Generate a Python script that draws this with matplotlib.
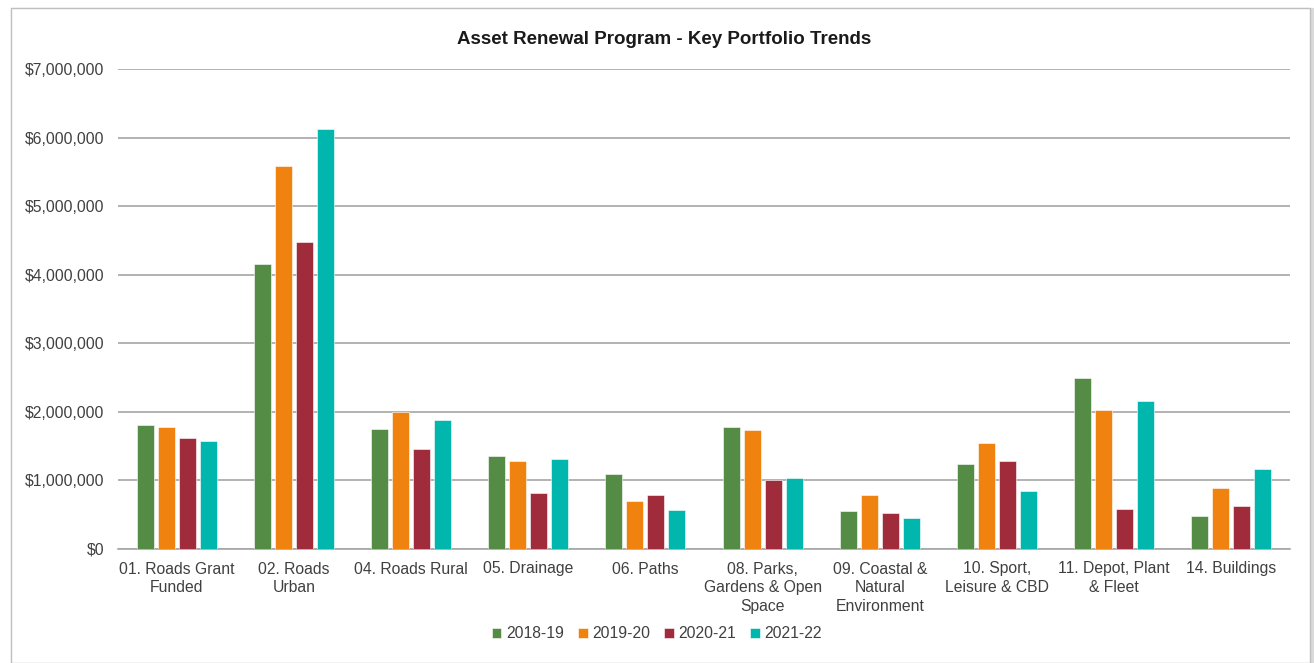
import matplotlib
matplotlib.use("Agg")
import matplotlib.pyplot as plt
import numpy as np
from matplotlib.patches import Rectangle
from matplotlib.ticker import FuncFormatter

categories = ["01. Roads Grant\nFunded", "02. Roads\nUrban", "04. Roads Rural", "05. Drainage",
              "06. Paths", "08. Parks,\nGardens & Open\nSpace", "09. Coastal &\nNatural\nEnvironment",
              "10. Sport,\nLeisure & CBD", "11. Depot, Plant\n& Fleet", "14. Buildings"]
series_names = ["2018-19", "2019-20", "2020-21", "2021-22"]
v2018_19 = [1805000, 4150000, 1750000, 1355000, 1090000, 1780000, 560000, 1240000, 2500000, 480000]
v2019_20 = [1786000, 5590000, 2000000, 1280000, 700000, 1730000, 790000, 1540000, 2020000, 885000]
v2020_21 = [1620000, 4480000, 1460000, 820000, 790000, 1000000, 530000, 1290000, 580000, 620000]
v2021_22 = [1570000, 6120000, 1880000, 1310000, 565000, 1030000, 450000, 840000, 2160000, 1165000]
colors = ["#548B45", "#F0820F", "#A02B3A", "#00B6AD"]

plt.rcParams['font.family'] = ['Liberation Sans', 'DejaVu Sans']

fig = plt.figure(figsize=(13.14, 6.63), dpi=100)
W, H = 1314, 663
# chart frame with soft shadow
fig.patches.append(Rectangle((13/W, 0), 1300/W, 1 - 10/H, transform=fig.transFigure,
                             facecolor="none", edgecolor="#DADADA", linewidth=3, zorder=-10))
fig.patches.append(Rectangle((11/W, 0), 1299/W, 1 - 8/H, transform=fig.transFigure,
                             facecolor="white", edgecolor="#BFBFBF", linewidth=1, zorder=-9))

ax = fig.add_axes([118/W, 1 - 549/H, (1290 - 118)/W, (549 - 69)/H])
ax.patch.set_alpha(0)
x = np.arange(len(categories))
pitch = 0.179
bw = 0.145
for i, (vals, name) in enumerate(zip([v2018_19, v2019_20, v2020_21, v2021_22], series_names)):
    ax.bar(x + (i - 1.5) * pitch, vals, width=bw, color=colors[i], label=name, zorder=3,
           edgecolor="white", linewidth=0.4)

ax.set_xlim(-0.5, len(categories) - 0.5)
ax.set_ylim(0, 7000000)
ax.set_yticks(np.arange(0, 7000001, 1000000))
ax.yaxis.set_major_formatter(FuncFormatter(lambda v, p: "${:,.0f}".format(v)))
ax.grid(axis="y", color="#A6A6A6", linewidth=1.2, zorder=0)
for s in ["top", "right", "left"]:
    ax.spines[s].set_visible(False)
ax.spines["bottom"].set_color("#A6A6A6")
ax.spines["bottom"].set_linewidth(1.2)
ax.tick_params(axis="both", length=0, labelsize=11.3, colors="#404040")
ax.tick_params(axis="y", pad=10)
ax.set_xticks(x)
ax.set_xticklabels(categories, linespacing=1.3)
ax.tick_params(axis="x", pad=9)

fig.text(664 / W, 1 - 40/H, "Asset Renewal Program - Key Portfolio Trends",
         ha="center", va="center", fontsize=13.5, fontweight="bold", color="#1a1a1a")

leg = fig.legend(loc="center", bbox_to_anchor=(0.5, 1 - 634/H), ncol=4, frameon=False,
                 fontsize=11.3, handlelength=0.6, handleheight=0.6, handletextpad=0.3,
                 columnspacing=0.9)
for t in leg.get_texts():
    t.set_color("#404040")

fig.savefig("out.png", dpi=100)
